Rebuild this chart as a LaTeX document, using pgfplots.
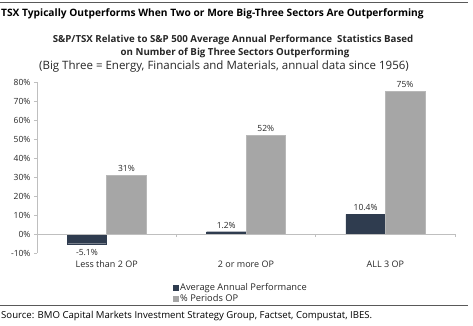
\documentclass[border=0pt]{standalone}
\usepackage{fontspec}
\setmainfont{Open Sans}
\usepackage{pgfplots}
\pgfplotsset{compat=1.18}
\definecolor{navy}{HTML}{2F3C4F}
\definecolor{bargray}{HTML}{A6A6A6}
\definecolor{axisgray}{HTML}{BFBFBF}
\definecolor{txt}{HTML}{262626}
\definecolor{rule}{HTML}{595959}
\begin{document}
\begin{tikzpicture}
\useasboundingbox (0pt,0pt) rectangle (473pt,-325pt);
\draw[rule, line width=0.9pt] (0pt,-2pt) -- (468pt,-2pt);
\node[anchor=west, inner sep=0pt, text=black, font=\bfseries\fontsize{10.2}{12}\selectfont] at (1pt,-14pt) {TSX Typically Outperforms When Two or More Big-Three Sectors Are Outperforming};
\node[anchor=center, inner sep=0pt, text=txt, font=\bfseries\fontsize{9.7}{11}\selectfont] at (233pt,-40pt) {S\&P/TSX Relative to S\&P 500 Average Annual Performance\ \ Statistics Based};
\node[anchor=center, inner sep=0pt, text=txt, font=\bfseries\fontsize{9.7}{11}\selectfont] at (235pt,-53pt) {on Number of Big Three Sectors Outperforming};
\node[anchor=center, inner sep=0pt, text=txt, font=\fontsize{11.5}{13}\selectfont] at (224pt,-67pt) {(Big Three = Energy, Financials and Materials, annual data since 1956)};
\draw[rule, line width=0.9pt] (0pt,-305pt) -- (468pt,-305pt);
\node[anchor=west, inner sep=0pt, text=black, font=\fontsize{9.6}{11}\selectfont] at (1pt,-316pt) {Source: BMO Capital Markets Investment Strategy Group, Factset, Compustat, IBES.};
\begin{axis}[
  at={(37pt,-253pt)}, anchor=south west,
  scale only axis, width=418pt, height=171pt,
  xmin=-0.5, xmax=2.5, ymin=-10, ymax=80,
  axis lines=left, axis line style={-},
  x axis line style={draw=none},
  y axis line style={axisgray},
  ytick={-10,0,...,80},
  yticklabel={\pgfmathprintnumber{\tick}\%},
  /pgf/number format/assume math mode=true,
  tick align=outside, major tick length=3pt,
  y tick style={axisgray},
  xtick={0,1,2}, xticklabels={Less than 2 OP, 2 or more OP, ALL 3 OP},
  x tick style={draw=none},
  ticklabel style={text=txt, font=\fontsize{8.5}{10}\selectfont},
  xticklabel style={font=\fontsize{9}{10}\selectfont, yshift=-1pt},
  ybar=0pt, bar width=39.5pt,
  nodes near coords style={text=txt, font=\fontsize{8.5}{10}\selectfont},
  legend style={at={(rel axis cs:0.322,-0.16)}, anchor=north west, draw=none, fill=none,
    font=\fontsize{9.3}{10}\selectfont, text=txt, row sep=-2pt, inner sep=1pt,
    /tikz/every even column/.append style={column sep=1pt}},
  legend cell align=left,
  clip=false,
]
\addplot[fill=navy, draw=navy,
  visualization depends on={rawy \as \rawy},
  nodes near coords={\pgfmathprintnumber[fixed,fixed zerofill,precision=1]{\pgfplotspointmeta}\%},
  every node near coord/.append style={yshift={-2*(\rawy<0)}},
  legend image code/.code={\fill[navy] (0pt,-2.5pt) rectangle (5pt,2.5pt);}]
  coordinates {(0,-5.1) (1,1.2) (2,10.4)};
\addlegendentry{Average Annual Performance}
\addplot[fill=bargray, draw=bargray!80!white,
  nodes near coords={\pgfmathprintnumber[fixed,precision=0]{\pgfplotspointmeta}\%},
  legend image code/.code={\fill[bargray] (0pt,-2.5pt) rectangle (5pt,2.5pt);}]
  coordinates {(0,31) (1,52) (2,75)};
\addlegendentry{\% Periods OP}
\draw[axisgray] (axis cs:-0.5,0) -- (axis cs:2.5,0);
\draw[axisgray] ([yshift=-3pt]axis cs:0.5,0) -- (axis cs:0.5,0);
\draw[axisgray] ([yshift=-3pt]axis cs:1.5,0) -- (axis cs:1.5,0);
\draw[axisgray] ([yshift=-3pt]axis cs:2.5,0) -- (axis cs:2.5,0);
\end{axis}
\end{tikzpicture}
\end{document}
